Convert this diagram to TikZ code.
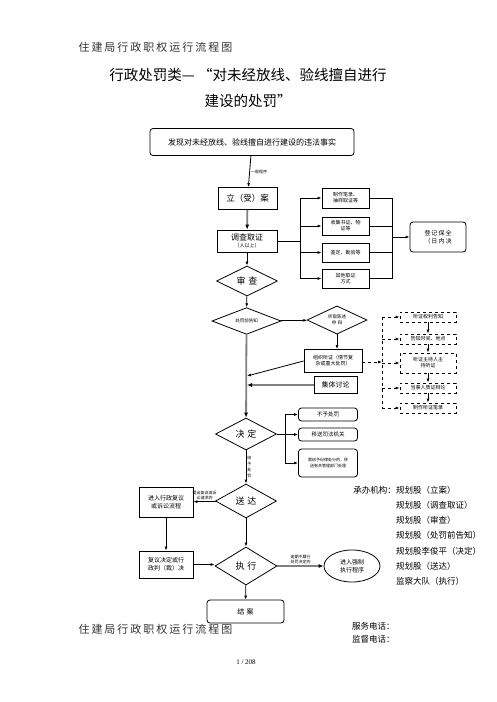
\documentclass[tikz,border=0pt]{standalone}
\usepackage{fontspec}
\setmainfont{Noto Sans CJK SC}
\newfontfamily\headfont[LetterSpace=18]{Noto Sans CJK SC}
\newfontfamily\numfont{Liberation Serif}
\usetikzlibrary{positioning,shapes.geometric,arrows.meta}
\tikzset{
  box/.style={draw, thick, align=center, inner sep=1pt, font=\fontsize{5}{6}\selectfont},
  rbox/.style={box, rounded corners=3pt},
  dbox/.style={box, dashed},
  dia/.style={draw, thick, diamond, inner sep=0pt, align=center},
  line/.style={thick, -{Latex[length=4pt,width=3pt]}},
  dline/.style={line, dashed},
  main/.style={line width=1.8pt, gray, -{Latex[length=5pt,width=4pt,black]}},
  lbl/.style={font=\fontsize{4}{5}\selectfont, align=center, inner sep=1pt},
  org/.style={font=\fontsize{8.5}{10}\selectfont, inner sep=0pt}
}
\begin{document}
\begin{tikzpicture}[x=1pt,y=-1pt]
    \useasboundingbox (0,0) rectangle (496,702);
    \node[anchor=west, text=black!80, font=\headfont\fontsize{11}{12}\selectfont] (head) at (75,47) {住建局行政职权运行流程图};
    \node[font=\fontsize{14.5}{16}\selectfont] (title1) at (248,75) {行政处罚类— “对未经放线、验线擅自进行};
    \node[font=\fontsize{14.5}{16}\selectfont] (title2) at (248,101) {建设的处罚”};

    \node[rbox, minimum width=204, minimum height=27, font=\fontsize{8}{9}\selectfont] (faxian) at (252,142) {发现对未经放线、验线擅自进行建设的违法事实};
    \node[box, minimum width=59, minimum height=22, font=\fontsize{8.5}{9}\selectfont] (lian) at (247.5,198.5) {立（受）案};
    \node[box, minimum width=60, minimum height=22, font=\fontsize{8}{8}\selectfont] (diaocha) at (247,241) {调查取证\\[-1pt]{\fontsize{5}{5}\selectfont （人以上）}};
    \node[dia, minimum width=61, minimum height=30, font=\fontsize{9}{9}\selectfont] (shencha) at (247,281) {审\,\,查};

    \node[box, minimum width=47, minimum height=20] (ea) at (345.5,198) {制作笔录、\\抽样取证等};
    \node[box, minimum width=47, minimum height=18] (eb) at (345.5,226) {收集书证、物\\证等};
    \node[box, minimum width=47, minimum height=19] (ec) at (345.5,252.5) {鉴定、勘验等};
    \node[box, minimum width=47, minimum height=19] (ed) at (345.5,278.5) {其他取证\\方式};
    \node[rbox, minimum width=56, minimum height=30, font=\fontsize{6}{7.5}\selectfont] (baoquan) at (438,237) {登\,记\,保\,全\\（\,日\,内\,决};

    \node[dia, minimum width=69, minimum height=26, font=\fontsize{4.5}{5}\selectfont] (gaozhi) at (246.5,321) {处罚前告知};
    \node[dia, minimum width=60, minimum height=28, font=\fontsize{4.5}{6}\selectfont] (tingqu) at (337,320) {听取陈述\\申\,\,辩};
    \node[box, minimum width=58, minimum height=23] (zuzhi) at (333,361) {组织听证（情节复\\杂或重大处罚）};
    \node[box, minimum width=43, minimum height=17, font=\fontsize{7}{8}\selectfont] (taolun) at (335.5,385) {集体讨论};

    \node[dbox, minimum width=56, minimum height=10] (t1) at (428,317) {听证权利告知};
    \node[dbox, minimum width=56, minimum height=10] (t2) at (428,339) {告知时间、地点};
    \node[dbox, minimum width=56, minimum height=20] (t3) at (428,363) {听证主持人主\\持听证};
    \node[dbox, minimum width=56, minimum height=10] (t4) at (428,388) {当事人质证辩论};
    \node[dbox, minimum width=56, minimum height=10] (t5) at (428,408) {制作听证笔录};

    \node[dia, minimum width=61, minimum height=32, font=\fontsize{9}{9}\selectfont] (jueding) at (246,434) {决\,\,定};
    \node[rbox, minimum width=59, minimum height=13, font=\fontsize{5.5}{6}\selectfont] (n1) at (328,414.5) {不予处罚};
    \node[rbox, minimum width=59, minimum height=13, font=\fontsize{5.5}{6}\selectfont] (n2) at (328,434.5) {移送司法机关};
    \node[rbox, minimum width=59, minimum height=28, font=\fontsize{4}{6}\selectfont] (n3) at (328,463) {需给予纪律处分的，移\\送有关管理部门处理};

    \node[dia, minimum width=61, minimum height=34, font=\fontsize{9}{9}\selectfont] (songda) at (246,501) {送\,\,达};
    \node[box, minimum width=54, minimum height=30, font=\fontsize{6}{8}\selectfont] (fuyi) at (166,502) {进入行政复议\\或诉讼流程};
    \node[box, minimum width=54, minimum height=27, font=\fontsize{6}{8}\selectfont] (panjue) at (166,564.5) {复议决定或行\\政判（裁）决};
    \node[dia, minimum width=62, minimum height=38, font=\fontsize{9}{9}\selectfont] (zhixing) at (246,566) {执\,\,行};
    \node[draw, thick, ellipse, minimum width=56, minimum height=32, inner sep=0pt, align=center, font=\fontsize{6}{8}\selectfont] (qiangzhi) at (352,566) {进入强制\\执行程序};
    \node[rbox, minimum width=77, minimum height=23, font=\fontsize{7}{8}\selectfont] (jiean) at (245.5,611.5) {结\,\,案};

    \draw[line] (faxian) -- node[lbl, right] {一般程序} (lian);
    \draw[main] (lian) -- (diaocha);
    \draw[line] (diaocha) -- (shencha);

    \coordinate (busL) at (300,241);
    \coordinate (busR) at (392,237);
    \draw[thick] (diaocha.east) -- (busL);
    \draw[thick] (busL |- ea) -- (busL |- ed);
    \foreach \e in {ea,eb,ec,ed}
        \draw[line] (busL |- \e) -- (\e.west);
    \draw[thick] (ea.east) -| (busR |- ed) -- (ed.east);
    \draw[thick] (eb.east) -- (busR |- eb);
    \draw[thick] (ec.east) -- (busR |- ec);
    \draw[line] (busR) -- (baoquan.west);

    \draw[line] (shencha) -- (gaozhi);
    \draw[line] (gaozhi) -- (tingqu);
    \draw[line] (tingqu) -- (zuzhi.north -| tingqu);
    \coordinate (meet) at (247,376);
    \draw[main] (gaozhi) -- (jueding);
    \draw[line] (zuzhi.west) -- (meet);
    \draw[main] (taolun) -- (taolun -| meet);

    \coordinate (busH) at (382,362);
    \draw[thick, dashed] (busH |- t1) -- (busH |- t5);
    \draw[dline] (zuzhi.east |- busH) -- (busH);
    \foreach \t in {t1,t2,t3,t4,t5}
        \draw[dline] (busH |- \t) -- (\t.west);
    \foreach \a/\b in {t1/t2,t2/t3,t3/t4,t4/t5}
        \draw[line] (\a) -- (\b);

    \coordinate (busJ) at (285,434);
    \draw[thick] (jueding.east) -- (busJ);
    \draw[thick] (busJ |- n1) -- (busJ |- n3);
    \foreach \n in {n1,n2,n3}
        \draw[line] (busJ |- \n) -- (\n.west);

    \draw[line] (jueding) -- node[lbl, right, font=\fontsize{4}{6}\selectfont] {给\\予\\处\\罚} (songda);
    \draw[line] (songda) -- node[lbl, above] {提出复议或诉\\讼请求的} (fuyi);
    \draw[line] (fuyi) -- (panjue);
    \draw[line] (panjue.east) -- (panjue.east -| zhixing.west);
    \draw[line] (songda) -- (zhixing);
    \draw[main] (zhixing) -- node[lbl, above, text=black] {逾期不履行\\处罚决定的} (qiangzhi);
    \draw[line] (zhixing) -- (jiean);

    \node[org, anchor=east] (cb) at (396,490) {承办机构：};
    \foreach \o [count=\i] in {规划股（立案）,规划股（调查取证）,规划股（审查）,规划股（处罚前告知）,规划股李俊平（决定）,规划股（送达）,监察大队（执行）}
        \node[org, anchor=west] (org\i) at (396,{490+15.2*(\i-1)}) {\o};

    \node[anchor=west, text=black!80, font=\headfont\fontsize{11}{12}\selectfont] (foot) at (75,629) {住建局行政职权运行流程图};
    \node[org, anchor=west] (fuwu) at (352,626) {服务电话：};
    \node[org, anchor=west] (jiandu) at (352,639) {监督电话：};
    \node[font=\numfont\fontsize{7}{8}\selectfont] (page) at (246,662) {1 / 208};
\end{tikzpicture}
\end{document}
